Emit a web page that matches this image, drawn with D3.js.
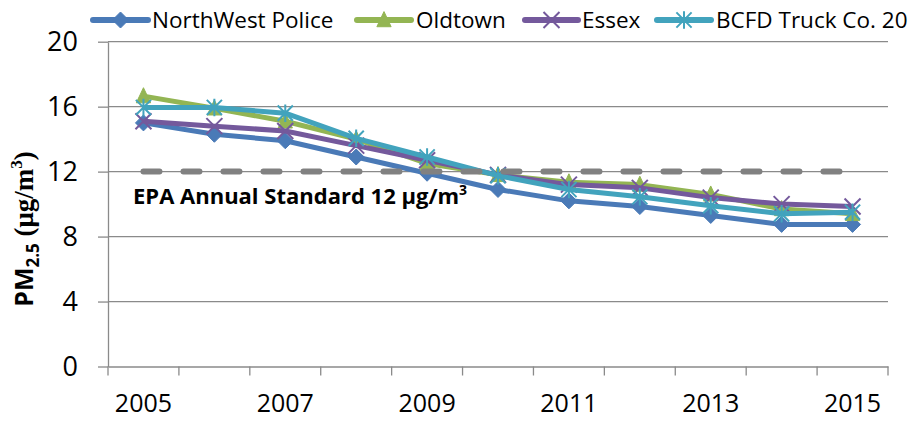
<!DOCTYPE html>
<html>
<head>
<meta charset="utf-8">
<script src="https://cdn.jsdelivr.net/npm/d3@7"></script>
<style>
  html, body { margin: 0; padding: 0; background: #fff; }
  svg { display: block; font-family: "Open Sans", sans-serif; }
</style>
</head>
<body>
<svg id="chart" width="911" height="421"></svg>
<script>
// Annual mean PM2.5 by monitoring site
const years = ["2005","2006","2007","2008","2009","2010","2011","2012","2013","2014","2015"];
const northWestPolice = [15.0, 14.3, 13.9, 12.9, 11.9, 10.9, 10.2, 9.85, 9.3, 8.75, 8.75];
const oldtown         = [16.65, 15.9, 15.1, 14.0, 12.5, 11.8, 11.35, 11.2, 10.6, 9.7, 9.4];
const essex           = [15.1, 14.8, 14.5, 13.6, 12.7, 11.8, 11.2, 11.0, 10.4, 10.0, 9.85];
const bcfdTruck20     = [15.95, 15.95, 15.6, 14.05, 12.9, 11.75, 10.9, 10.45, 9.9, 9.4, 9.5];
const epaStandard     = [12, 12, 12, 12, 12, 12, 12, 12, 12, 12, 12];
const seriesNames = ["NorthWest Police", "Oldtown", "Essex", "BCFD Truck Co. 20"];
const yTicks = [0, 4, 8, 12, 16, 20];
const xTickLabels = ["2005","2007","2009","2011","2013","2015"];

const series = [
  { name: seriesNames[0], values: northWestPolice, color: "#4a7ab7", marker: "diamond" },
  { name: seriesNames[1], values: oldtown,         color: "#93b553", marker: "triangle" },
  { name: seriesNames[2], values: essex,           color: "#74599c", marker: "x" },
  { name: seriesNames[3], values: bcfdTruck20,     color: "#42a3bd", marker: "star" }
];

const svg = d3.select("#chart");
const plot = { left: 108, right: 888, top: 41.7, bottom: 366.5 };
const axisColor = "#8a8a8a";

const x = d3.scaleBand().domain(years).range([plot.left, plot.right]).padding(0);
const cx = d => x(d) + x.bandwidth() / 2;
const y = d3.scaleLinear().domain([0, 20]).range([plot.bottom, plot.top]);

// horizontal gridlines
svg.append("g").selectAll("line")
  .data(yTicks.filter(t => t > 0))
  .join("line")
  .attr("x1", plot.left).attr("x2", plot.right)
  .attr("y1", d => y(d)).attr("y2", d => y(d))
  .attr("stroke", axisColor).attr("stroke-width", 1.3);

// y axis
const yAxis = svg.append("g")
  .attr("transform", `translate(${plot.left},0)`)
  .call(d3.axisLeft(y).tickValues(yTicks).tickSize(10).tickPadding(20).tickSizeOuter(0));
yAxis.select(".domain").attr("stroke", axisColor).attr("stroke-width", 1.3);
yAxis.selectAll(".tick line").attr("stroke", axisColor).attr("stroke-width", 1.3);
yAxis.selectAll(".tick text")
  .attr("font-family", "Open Sans").attr("font-size", 27).attr("fill", "#000");

// x axis: category labels at centres, tick marks between categories
const xAxis = svg.append("g")
  .attr("transform", `translate(0,${plot.bottom})`)
  .call(d3.axisBottom(x).tickValues(xTickLabels).tickSize(0).tickPadding(28).tickSizeOuter(0));
xAxis.select(".domain").attr("stroke", axisColor).attr("stroke-width", 1.3);
xAxis.selectAll(".tick text")
  .attr("font-family", "Open Sans").attr("font-size", 25).attr("fill", "#000")
  .attr("dy", "0.71em");
xAxis.append("g").selectAll("line")
  .data(d3.range(years.length + 1))
  .join("line")
  .attr("x1", i => plot.left + i * x.step()).attr("x2", i => plot.left + i * x.step())
  .attr("y1", 0).attr("y2", 9)
  .attr("stroke", axisColor).attr("stroke-width", 1.3);

// marker shapes
function drawMarker(g, type, color, px, py, s) {
  if (type === "diamond") {
    g.append("path")
      .attr("d", `M${px},${py - s}L${px + s},${py}L${px},${py + s}L${px - s},${py}Z`)
      .attr("fill", color).attr("stroke", color).attr("stroke-width", 1);
  } else if (type === "triangle") {
    const h = s * 1.05;
    g.append("path")
      .attr("d", `M${px},${py - h}L${px + h * 0.85},${py + h * 0.8}L${px - h * 0.85},${py + h * 0.8}Z`)
      .attr("fill", color).attr("stroke", color).attr("stroke-width", 1);
  } else if (type === "x") {
    const a = s * 1.0;
    g.append("path")
      .attr("d", `M${px - a},${py - a}L${px + a},${py + a}M${px - a},${py + a}L${px + a},${py - a}`)
      .attr("stroke", color).attr("stroke-width", 2).attr("fill", "none");
  } else if (type === "star") {
    const a = s * 0.95;
    g.append("path")
      .attr("d", `M${px - a},${py - a}L${px + a},${py + a}M${px - a},${py + a}L${px + a},${py - a}M${px},${py - a * 1.15}L${px},${py + a * 1.15}`)
      .attr("stroke", color).attr("stroke-width", 2).attr("fill", "none");
  }
}

const line = d3.line().x((d, i) => cx(years[i])).y(d => y(d));

// data series
series.forEach(s => {
  const g = svg.append("g");
  g.append("path")
    .attr("d", line(s.values))
    .attr("fill", "none").attr("stroke", s.color)
    .attr("stroke-width", 5).attr("stroke-linejoin", "round");
  s.values.forEach((v, i) => drawMarker(g, s.marker, s.color, cx(years[i]), y(v), 8));
});

// EPA annual standard reference line
svg.append("path")
  .attr("d", line(epaStandard))
  .attr("fill", "none").attr("stroke", "#818181")
  .attr("stroke-width", 6).attr("stroke-linecap", "round")
  .attr("stroke-dasharray", "16,24");

const epaLabel = svg.append("text")
  .attr("x", 133).attr("y", 204)
  .attr("font-family", "Open Sans").attr("font-weight", "bold")
  .attr("font-size", 22).attr("fill", "#000");
epaLabel.append("tspan").text("EPA Annual Standard 12 μg/m");
epaLabel.append("tspan").attr("font-size", 14).attr("dy", -9).text("3");

// y axis title
const yTitle = svg.append("text")
  .attr("transform", "translate(33,229) rotate(-90)")
  .attr("text-anchor", "middle")
  .attr("font-weight", "bold").attr("fill", "#000");
yTitle.append("tspan").attr("font-family", "Open Sans").attr("font-size", 25).text("PM");
yTitle.append("tspan").attr("font-family", "Open Sans").attr("font-size", 17).attr("dy", 6).text("2.5");
yTitle.append("tspan").attr("font-family", "Liberation Serif").attr("font-size", 27).attr("dy", -6).text(" (μg/m");
yTitle.append("tspan").attr("font-family", "Liberation Serif").attr("font-size", 17).attr("dy", -11).text("3");
yTitle.append("tspan").attr("font-family", "Liberation Serif").attr("font-size", 27).attr("dy", 11).text(")");

// legend
const legendItems = [
  { x0: 93, x1: 148, tx: 152 },
  { x0: 357, x1: 411, tx: 416 },
  { x0: 525, x1: 578, tx: 582 },
  { x0: 657, x1: 711, tx: 716 }
];
const legendY = 20;
series.forEach((s, i) => {
  const li = legendItems[i];
  const g = svg.append("g");
  g.append("line")
    .attr("x1", li.x0).attr("x2", li.x1).attr("y1", legendY).attr("y2", legendY)
    .attr("stroke", s.color).attr("stroke-width", 6).attr("stroke-linecap", "round");
  drawMarker(g, s.marker, s.color, (li.x0 + li.x1) / 2, legendY, 8);
  g.append("text")
    .attr("x", li.tx).attr("y", legendY).attr("dy", "0.35em")
    .attr("font-family", "Open Sans").attr("font-size", 22.5).attr("fill", "#000")
    .text(s.name);
});
</script>
</body>
</html>
